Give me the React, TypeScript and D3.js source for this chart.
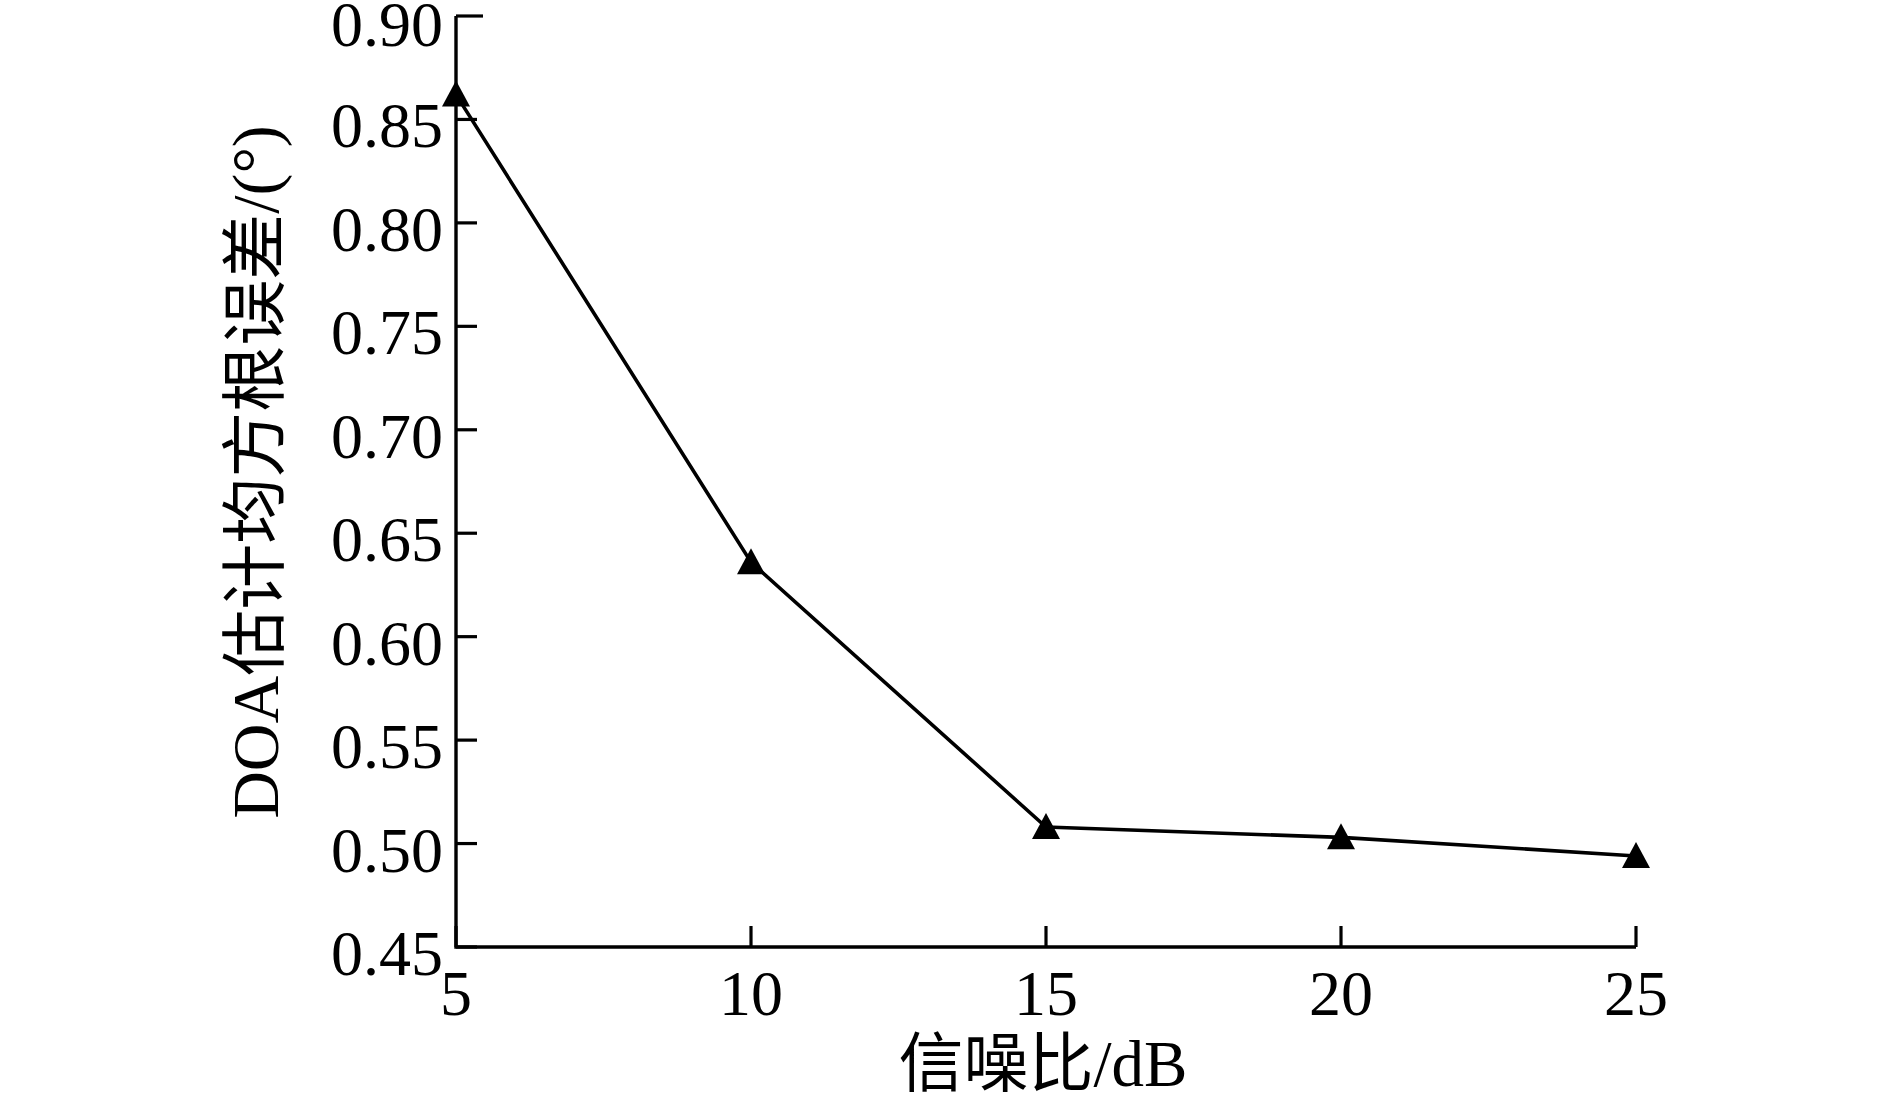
import React from "react";
import * as d3 from "d3";

const snrValues = [5, 10, 15, 20, 25];
const rmseValues = [0.862, 0.636, 0.508, 0.503, 0.494];
const xTicks = [5, 10, 15, 20, 25];
const yTicks = [0.45, 0.5, 0.55, 0.6, 0.65, 0.7, 0.75, 0.8, 0.85, 0.9];
const xLabel = "信噪比/dB";
const yLabel = "DOA估计均方根误差/(°)";

const W = 1889;
const H = 1102;
const FONT = "'Liberation Serif', 'Times New Roman', 'Noto Sans CJK SC', serif";

export default function App() {
  const x = d3.scaleLinear().domain([5, 25]).range([456, 1636]);
  const y = d3.scaleLinear().domain([0.45, 0.9]).range([947, 16]);
  const pts = snrValues.map((s, i) => [x(s), y(rmseValues[i])] as [number, number]);
  const line = d3.line<[number, number]>()(pts) || "";
  const tri = (cx: number, cy: number) =>
    `M${cx},${cy - 14}L${cx + 14},${cy + 12}L${cx - 14},${cy + 12}Z`;
  const x0 = x(5);
  const yb = y(0.45);
  return (
    <svg
      width={W}
      height={H}
      style={{ position: "absolute", left: 0, top: 0, background: "#fff" }}
      fontFamily={FONT}
    >
      <rect x={0} y={0} width={W} height={H} fill="#fff" />
      {/* axes */}
      <path d={`M${x0},${y(0.9)}V${yb}H${x(25)}`} fill="none" stroke="#000" strokeWidth={3.4} />
      {yTicks.map((t) => (
        <g key={"y" + t}>
          <line x1={x0} x2={x0 + (t === 0.9 ? 27 : 21)} y1={y(t)} y2={y(t)} stroke="#000" strokeWidth={3.2} />
          <text x={443} y={y(t) + (t === 0.9 ? 30 : 28)} textAnchor="end" fontSize={64} fill="#000">
            {t.toFixed(2)}
          </text>
        </g>
      ))}
      {xTicks.map((t) => (
        <g key={"x" + t}>
          <line x1={x(t)} x2={x(t)} y1={yb} y2={yb - 21} stroke="#000" strokeWidth={3.2} />
          <text x={x(t)} y={yb + 68} textAnchor="middle" fontSize={64} fill="#000">
            {t}
          </text>
        </g>
      ))}
      {/* data */}
      <path d={line} fill="none" stroke="#000" strokeWidth={3.6} />
      {pts.map(([px, py], i) => (
        <path key={"m" + i} d={tri(px, py)} fill="#000" />
      ))}
      {/* labels */}
      <text x={1043} y={1086} textAnchor="middle" fontSize={65} fill="#000">
        {xLabel}
      </text>
      <text
        transform={`translate(278,472) rotate(-90)`}
        textAnchor="middle"
        fontSize={66}
        fill="#000"
      >
        {yLabel}
      </text>
    </svg>
  );
}
